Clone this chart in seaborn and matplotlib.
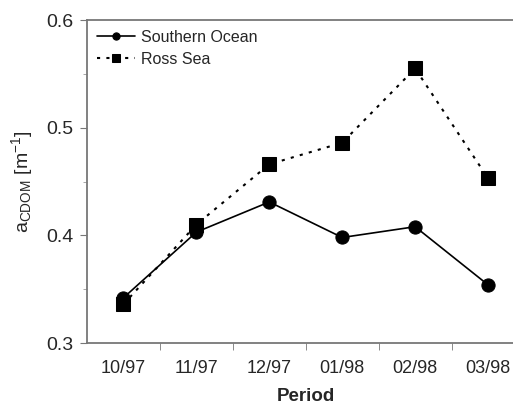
import pandas as pd
import matplotlib
matplotlib.use("Agg")
import matplotlib.pyplot as plt
import seaborn as sns

# data
periods = ["10/97", "11/97", "12/97", "01/98", "02/98", "03/98"]
southern_ocean = [0.342, 0.403, 0.431, 0.398, 0.408, 0.354]
ross_sea = [0.336, 0.410, 0.466, 0.486, 0.555, 0.453]

sns.set_style("ticks")
plt.rcParams["font.family"] = ["Liberation Sans", "DejaVu Sans"]
plt.rcParams["mathtext.fontset"] = "custom"
plt.rcParams["mathtext.rm"] = "Liberation Sans"
plt.rcParams["mathtext.it"] = "Liberation Sans"

df = pd.DataFrame({"Period": periods, "Southern Ocean": southern_ocean, "Ross Sea": ross_sea})

fig = plt.figure(figsize=(5.13, 4.07), dpi=100)
ax = fig.add_axes([87 / 513, 1 - 343 / 407, (524.5 - 87) / 513, (343 - 20) / 407])

sns.lineplot(data=df, x="Period", y="Southern Ocean", ax=ax, color="black",
             marker="o", markersize=9.5, linewidth=1.2, sort=False,
             label="Southern Ocean", markeredgecolor="black")
sns.lineplot(data=df, x="Period", y="Ross Sea", ax=ax, color="black",
             marker="s", markersize=9.5, linewidth=1.5, sort=False,
             linestyle=(0, (1.5, 3)), label="Ross Sea", markeredgecolor="black")

ax.set_xlim(-0.5, 5.5)
ax.set_ylim(0.3, 0.6)
ax.set_yticks([0.3, 0.4, 0.5, 0.6])
ax.set_yticks([0.35, 0.45, 0.55], minor=True)
ax.set_yticklabels(["0.3", "0.4", "0.5", "0.6"])
ax.set_xticks(range(len(periods)))
ax.set_xticklabels(periods)
ax.set_xticks([k + 0.5 for k in range(len(periods) - 1)], minor=True)
ax.tick_params(axis="x", which="major", length=0, labelsize=13, pad=12)
ax.tick_params(axis="x", which="minor", length=5, color="#777777", direction="out")
ax.tick_params(axis="y", which="major", length=5, color="#777777", labelsize=14, pad=5)
ax.tick_params(axis="y", which="minor", length=3, color="#999999")

for side in ["left", "bottom", "top", "right"]:
    ax.spines[side].set_color("#777777")
    ax.spines[side].set_linewidth(1.3)

ax.set_xlabel("Period", fontsize=13.5, fontweight="bold", labelpad=8)
ax.set_ylabel(r"a$_{\mathrm{CDOM}}$ [m$^{\mathrm{-1}}$]", fontsize=14, labelpad=8)

leg = ax.legend(loc="upper left", frameon=False, fontsize=11.5, handlelength=2.4,
                borderaxespad=0.2, labelspacing=0.45, handletextpad=0.4,
                markerscale=0.55, bbox_to_anchor=(0.0, 1.0))

fig.savefig("out.png", dpi=100)
